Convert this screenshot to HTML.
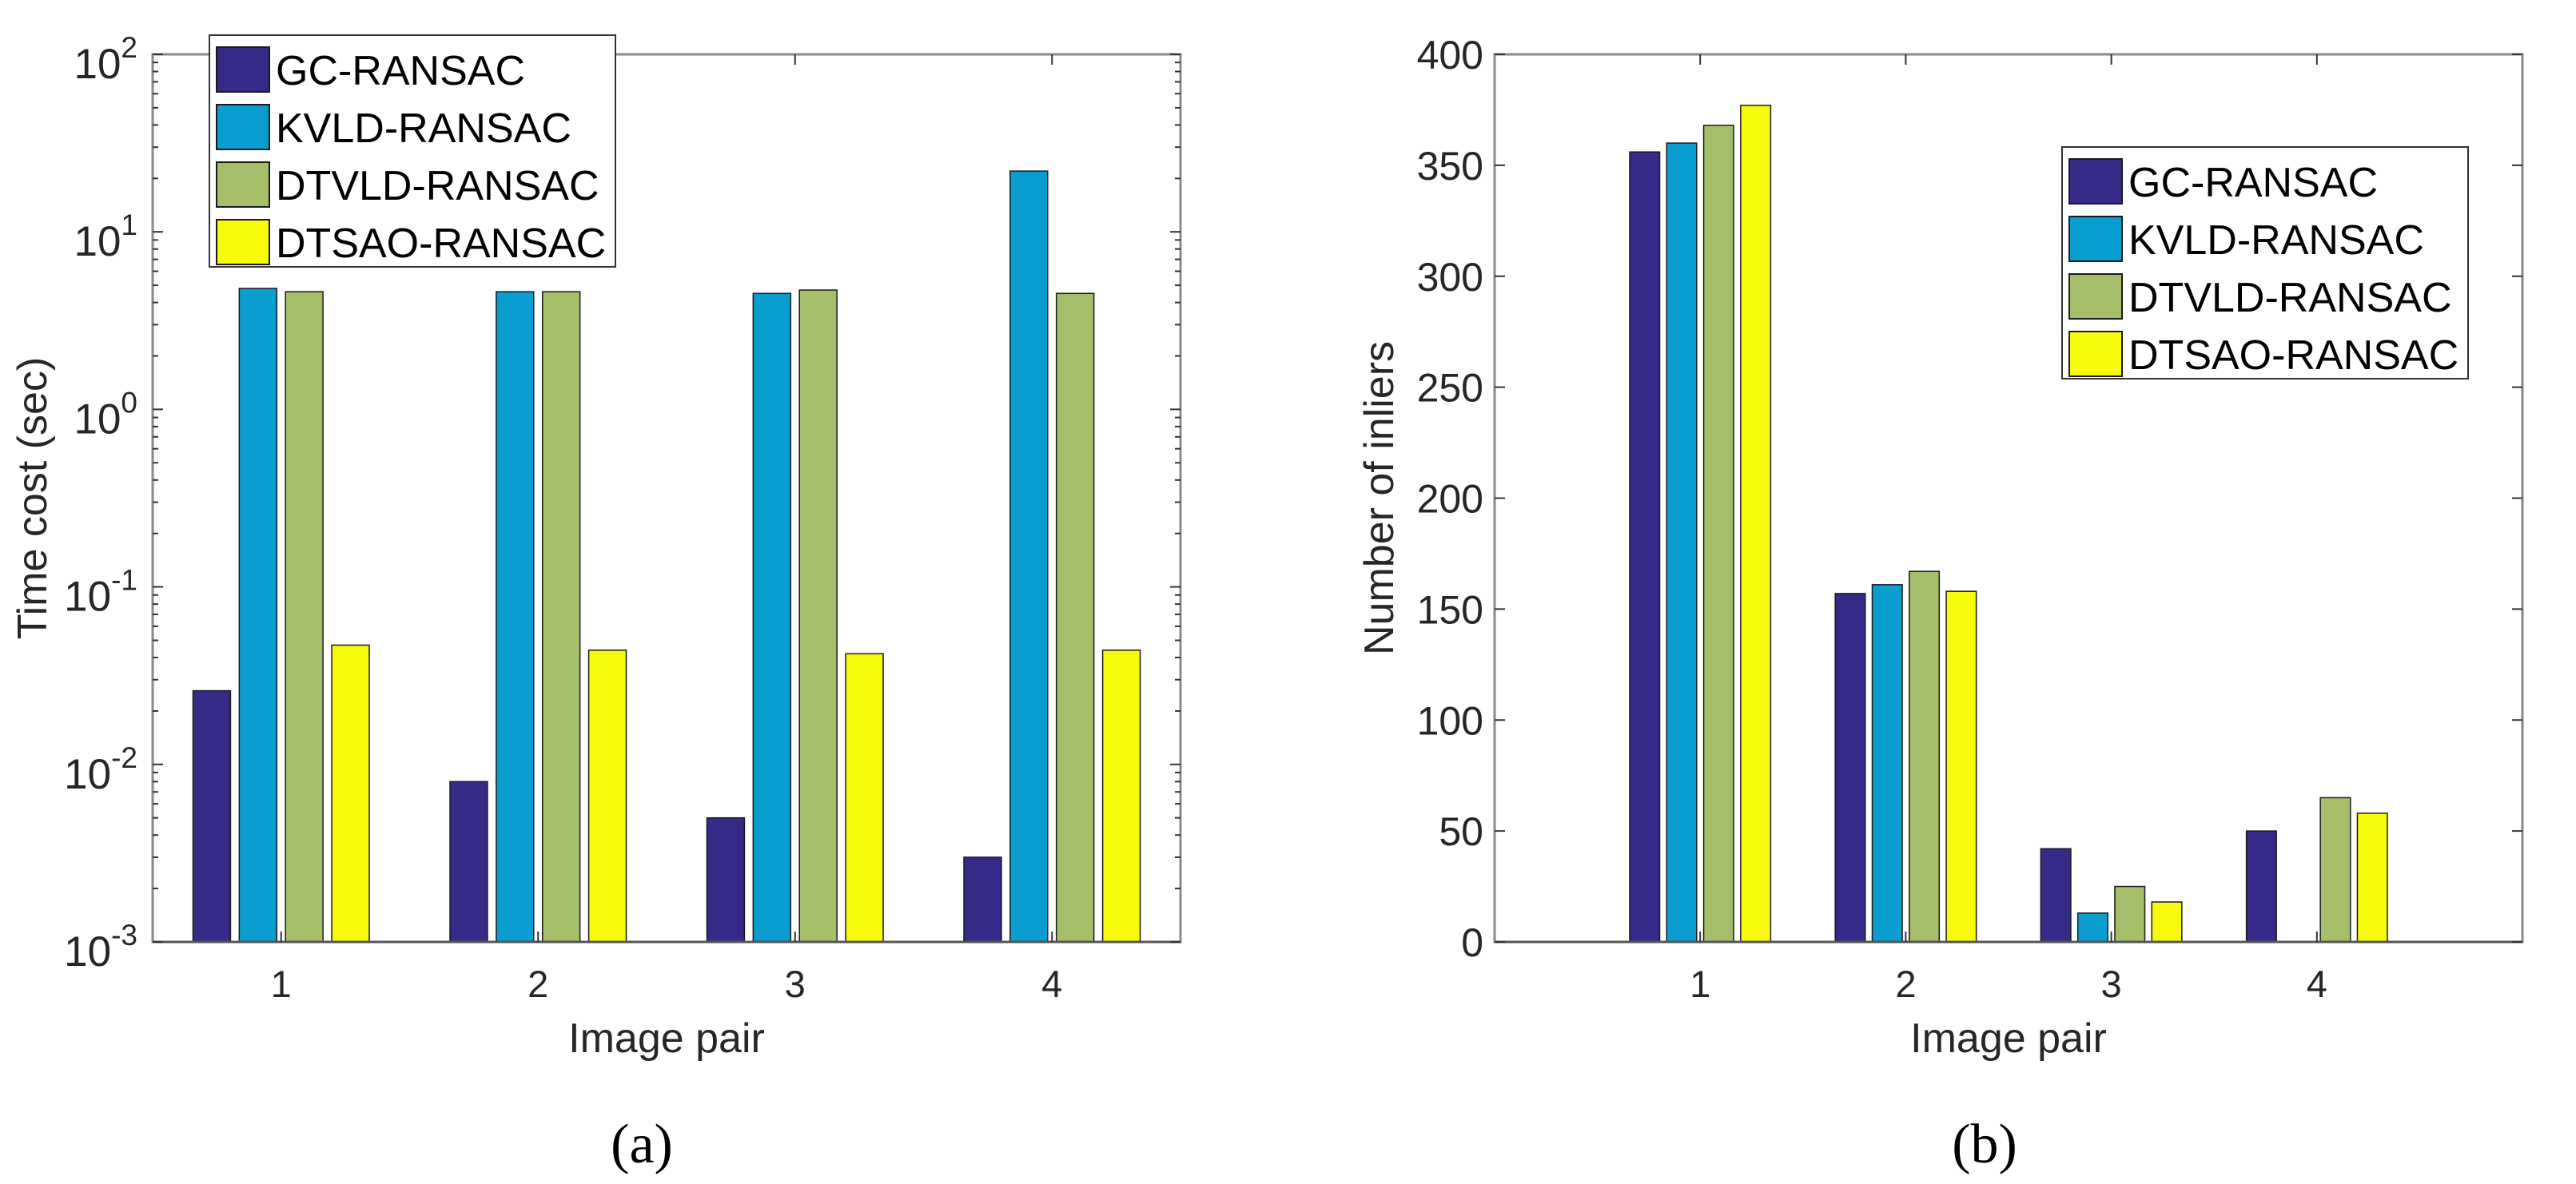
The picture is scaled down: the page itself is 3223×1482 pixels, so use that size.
<!DOCTYPE html>
<html><head><meta charset="utf-8"><style>
html,body{margin:0;padding:0;background:#fff;}
svg{display:block;font-family:"Liberation Sans",Arial,sans-serif;}
</style></head><body>
<svg id="fig" width="3223" height="1482" viewBox="0 0 3223 1482" xmlns="http://www.w3.org/2000/svg"></svg>
<script>
const categories = [1, 2, 3, 4];
const seriesNames = ["GC-RANSAC", "KVLD-RANSAC", "DTVLD-RANSAC", "DTSAO-RANSAC"];
const seriesColors = ["#352a87", "#0a9dd0", "#a5be6a", "#f8fa0d"];
const timeGC = [0.026, 0.008, 0.005, 0.003];
const timeKVLD = [4.8, 4.6, 4.5, 22];
const timeDTVLD = [4.6, 4.6, 4.7, 4.5];
const timeDTSAO = [0.047, 0.044, 0.042, 0.044];
const inlGC = [356, 157, 42, 50];
const inlKVLD = [360, 161, 13, 0];
const inlDTVLD = [368, 167, 25, 65];
const inlDTSAO = [377, 158, 18, 58];
const logTickExps = [-3, -2, -1, 0, 1, 2];
const linTicks = [0, 50, 100, 150, 200, 250, 300, 350, 400];

const NS = "http://www.w3.org/2000/svg";
const svg = document.getElementById("fig");
function mk(tag, attrs, parent){
  const e = document.createElementNS(NS, tag);
  for (const k in attrs) e.setAttribute(k, attrs[k]);
  (parent || svg).appendChild(e);
  return e;
}
const offsets = [-0.27, -0.09, 0.09, 0.27];
const barW = 0.146;

function drawChart(opt){
  const g = mk("g", {});
  
  
  const L = opt.L, R = opt.R, T = 68, B = 1179;
  const xs = v => L + (v - opt.xmin) / (opt.xmax - opt.xmin) * (R - L);
  const ys = opt.ys(T, B);
  opt.series.forEach((vals, si) => {
    vals.forEach((v, ci) => {
      const x0 = xs(categories[ci] + offsets[si] - barW / 2);
      const x1 = xs(categories[ci] + offsets[si] + barW / 2);
      const yv = Math.max(T, ys(v));
      const r = mk("rect", {x: x0, y: yv, width: x1 - x0, height: Math.max(0, B - yv), fill: seriesColors[si], stroke: "#1a1a1a", "stroke-width": 1.5}, g);
      
      
    });
  });
  const box = mk("rect", {x: L, y: T, width: R - L, height: B - T, fill: "none", stroke: "#8a8a8a", "stroke-width": 3}, g);
  
  
  mk("line", {x1: L, y1: B, x2: R, y2: B, stroke: "#555", "stroke-width": 3}, g);
  opt.yTicks.forEach(t => {
    const y = ys(t.v);
    mk("line", {x1: L, y1: y, x2: L + 13, y2: y, stroke: "#333", "stroke-width": 2}, g);
    mk("line", {x1: R, y1: y, x2: R - 13, y2: y, stroke: "#333", "stroke-width": 2}, g);
    const tx = mk("text", {x: L - 14, y: y + 18, "text-anchor": "end", "font-size": 50, fill: "#262626"}, g);
    
    
    if (t.exp !== undefined){
      tx.setAttribute("font-size", 53);
      tx.setAttribute("y", y + 30);
      tx.textContent = "10";
      const sp = mk("tspan", {dy: -26, "font-size": 37}, tx);
      sp.textContent = String(t.exp);
      tx.setAttribute("x", L - 19);
    } else tx.textContent = String(t.v);
  });
  (opt.minor || []).forEach(v => {
    const y = ys(v);
    mk("line", {x1: L, y1: y, x2: L + 7, y2: y, stroke: "#333", "stroke-width": 2}, g);
    mk("line", {x1: R, y1: y, x2: R - 7, y2: y, stroke: "#333", "stroke-width": 2}, g);
  });
  categories.forEach(c => {
    const x = xs(c);
    mk("line", {x1: x, y1: B, x2: x, y2: B - 13, stroke: "#333", "stroke-width": 2}, g);
    mk("line", {x1: x, y1: T, x2: x, y2: T + 13, stroke: "#333", "stroke-width": 2}, g);
    const tx = mk("text", {x: x, y: 1248, "text-anchor": "middle", "font-size": 47, fill: "#262626"}, g);
    
    
    tx.textContent = String(c);
  });
  const xt = mk("text", {x: (L + R) / 2, y: 1317, "text-anchor": "middle", "font-size": 52, fill: "#262626"}, g);
  
  
  xt.textContent = "Image pair";
  const yt = mk("text", {x: 0, y: 0, "text-anchor": "middle", "font-size": 52, fill: "#262626", transform: "translate(" + (opt.ytX) + "," + ((T + B) / 2) + ") rotate(-90)"}, g);
  
  
  yt.textContent = opt.ytitle;
  const lg = mk("g", {}, g);
  
  
  mk("rect", {x: opt.lgX, y: opt.lgY, width: 508, height: 290, fill: "#fff", stroke: "#333", "stroke-width": 2}, lg);
  seriesNames.forEach((n, i) => {
    const yy = opt.lgY + 15 + i * 72;
    const sw = mk("rect", {x: opt.lgX + 9, y: yy, width: 66, height: 56, fill: seriesColors[i], stroke: "#1a1a1a", "stroke-width": 2}, lg);
    
    
    const t = mk("text", {x: opt.lgX + 83, y: yy + 47, "font-size": 52, fill: "#000"}, lg);
    
    
    t.textContent = n;
  });
  const cap = mk("text", {x: opt.capX, y: 1455, "text-anchor": "middle", "font-size": 70, fill: "#000", "font-family": "'Liberation Serif', serif"}, g);
  
  
  cap.textContent = opt.cap;
}

const minorVals = [];
for (let e = -3; e < 2; e++) for (let m = 2; m <= 9; m++) minorVals.push(m * Math.pow(10, e));

drawChart({
  name: "chart-time-cost", L: 191, R: 1477, xmin: 0.5, xmax: 4.5,
  ys: (T, B) => v => B - (Math.log10(v) + 3) / 5 * (B - T),
  series: [timeGC, timeKVLD, timeDTVLD, timeDTSAO],
  yTicks: logTickExps.map(e => ({v: Math.pow(10, e), exp: e})),
  minor: minorVals,
  ytitle: "Time cost (sec)", ytX: 58,
  lgX: 262, lgY: 44, capX: 803, cap: "(a)"
});
drawChart({
  name: "chart-inliers", L: 1870, R: 3156, xmin: 0, xmax: 5,
  ys: (T, B) => v => B - v / 400 * (B - T),
  series: [inlGC, inlKVLD, inlDTVLD, inlDTSAO],
  yTicks: linTicks.map(v => ({v: v})),
  ytitle: "Number of inliers", ytX: 1743,
  lgX: 2580, lgY: 184, capX: 2483, cap: "(b)"
});
</script>
</body></html>
